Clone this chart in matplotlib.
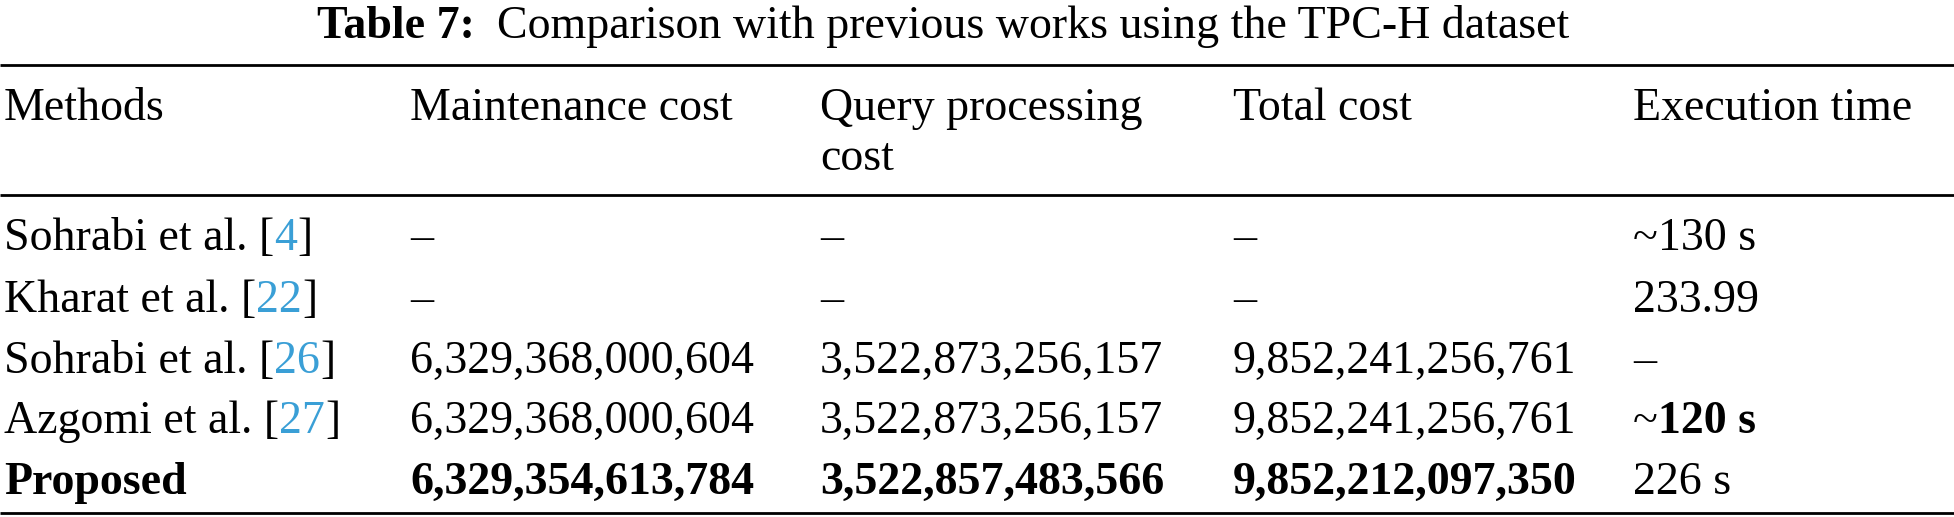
import matplotlib
matplotlib.use('Agg')
import matplotlib.pyplot as plt

# Table content
TITLE_BOLD = "Table 7:"
TITLE_TEXT = "Comparison with previous works using the TPC-H dataset"
HEADERS = [["Methods"], ["Maintenance cost"], ["Query processing", "cost"],
           ["Total cost"], ["Execution time"]]
# method name split as (prefix, citation, suffix)
METHODS = [("Sohrabi et al. [", "4", "]"),
           ("Kharat et al. [", "22", "]"),
           ("Sohrabi et al. [", "26", "]"),
           ("Azgomi et al. [", "27", "]"),
           ("Proposed", "", "")]
MAINTENANCE = ["–", "–", "6,329,368,000,604", "6,329,368,000,604", "6,329,354,613,784"]
QUERY = ["–", "–", "3,522,873,256,157", "3,522,873,256,157", "3,522,857,483,566"]
TOTAL = ["–", "–", "9,852,241,256,761", "9,852,241,256,761", "9,852,212,097,350"]
EXEC_TIME = ["~130 s", "233.99", "–", "~120 s", "226 s"]

# Layout (pixels)
COL_X = [4, 410, 820, 1233, 1633]
ROW_Y = [250, 312, 373, 433, 494]
FS = 33
CITE_COLOR = "#3a9fd6"

fig = plt.figure(figsize=(19.54, 5.17), dpi=100)
ax = fig.add_axes([0, 0, 1, 1])
ax.set_xlim(0, 1954)
ax.set_ylim(517, 0)
ax.axis('off')
plt.rcParams['font.family'] = ['Liberation Serif', 'DejaVu Serif']
renderer = fig.canvas.get_renderer()


def put(x, y, s, weight='normal', color='black'):
    t = ax.text(x, y, s, fontsize=FS, fontweight=weight, color=color,
                va='baseline', ha='left')
    bb = t.get_window_extent(renderer=renderer)
    return x + bb.width  # axes px == display px here


# Title
x = put(317, 38, TITLE_BOLD, weight='bold')
put(x + 22, 38, TITLE_TEXT)

# Rules
for y, lw in [(65, 2.0), (195, 2.0), (513, 2.0)]:
    ax.plot([0, 1954], [y, y], color='black', lw=lw, solid_capstyle='butt')

# Header
for cx, lines in zip(COL_X, HEADERS):
    for i, line in enumerate(lines):
        put(cx, 120 + 50 * i, line)

# Body
for r, y in enumerate(ROW_Y):
    bold = r == len(ROW_Y) - 1
    pre, cite, post = METHODS[r]
    x = put(COL_X[0], y, pre, weight='bold' if bold else 'normal')
    if cite:
        x = put(x, y, cite, color=CITE_COLOR)
        put(x, y, post)
    w = 'bold' if bold else 'normal'
    put(COL_X[1], y, MAINTENANCE[r], weight=w)
    put(COL_X[2], y, QUERY[r], weight=w)
    put(COL_X[3], y, TOTAL[r], weight=w)
    et = EXEC_TIME[r]
    if et.startswith("~"):
        x = put(COL_X[4], y, "~")
        put(x, y, et[1:], weight='bold' if r == 3 else 'normal')
    else:
        put(COL_X[4], y, et)

fig.savefig("out.png", dpi=100)
